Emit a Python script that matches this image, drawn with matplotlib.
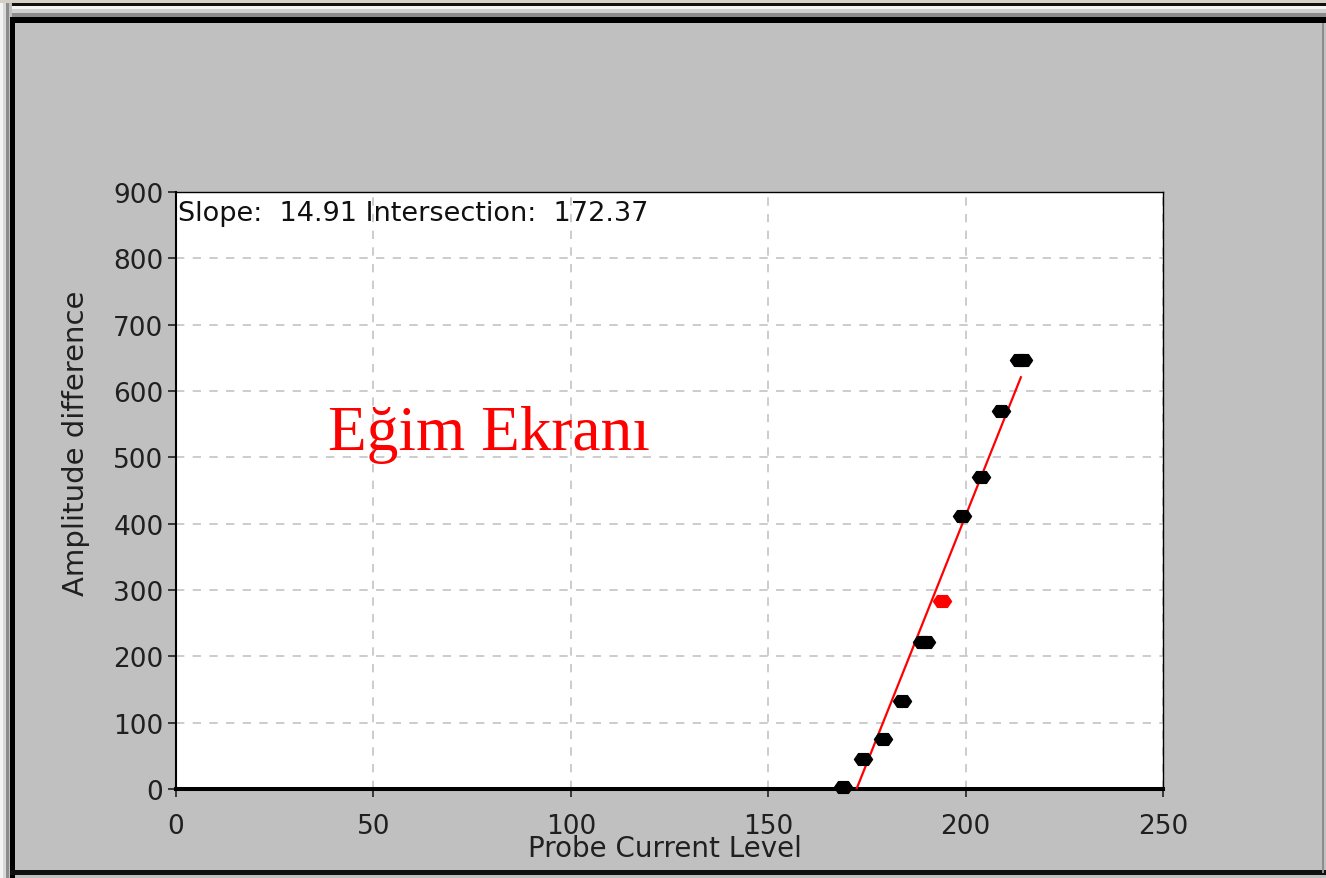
import matplotlib
matplotlib.use("Agg")
import matplotlib.pyplot as plt
from matplotlib.patches import Rectangle
from matplotlib.path import Path

# data
xPoints = [169, 174, 179, 184, 189, 190, 199, 204, 209, 213.5, 214.5]
yPoints = [3, 45, 75, 133, 222, 222, 412, 470, 570, 647, 647]
redX = [194]
redY = [283]
slope = 14.91
intersection = 172.37
fitX = [172.37, 214.0]
xTicks = [0, 50, 100, 150, 200, 250]
yTicks = [0, 100, 200, 300, 400, 500, 600, 700, 800, 900]

W, H = 1326, 879
fig = plt.figure(figsize=(W / 100, H / 100), dpi=100)
fig.patch.set_facecolor("#c0c0c0")


def px(x, y, w, h, color):
    # rectangle in screen pixels, top-left origin
    r = Rectangle((x / W, 1 - (y + h) / H), w / W, h / H,
                  transform=fig.transFigure, facecolor=color,
                  edgecolor="none", zorder=-5)
    fig.add_artist(r)


# window frame
px(0, 0, W, 4, "#d4d0c8")
px(12, 4, W, 3, "#101010")
px(12, 7, W, 3, "#f4f4f4")
px(12, 10, W, 4, "#d0d0d0")
px(12, 14, W, 4, "#8c8c8c")
px(10, 18, W, 6, "#000000")
px(0, 4, 3, H, "#f4f4f4")
px(3, 4, 3, H, "#d8d8d8")
px(6, 4, 3, H, "#8c8c8c")
px(10, 18, 5, H, "#000000")
px(10, 871, W, 5, "#101010")
px(1322, 24, 2, 850, "#8c8c8c")

ax = fig.add_axes([176 / W, 1 - 790 / H, (1163 - 176) / W, (790 - 193) / H])
ax.set_facecolor("white")

# fitted line
fitY = [slope * (x - intersection) for x in fitX]
ax.plot(fitX, fitY, color="red", linewidth=1.6, zorder=3)

hexVerts = [(-1, 0), (-0.55, 0.65), (0.55, 0.65), (1, 0), (0.55, -0.65),
            (-0.55, -0.65), (-1, 0)]
hexMarker = Path(hexVerts, closed=True)
ax.plot(xPoints, yPoints, linestyle="none", marker=hexMarker,
        markersize=13, color="black", zorder=4, clip_on=False)
ax.plot(redX, redY, linestyle="none", marker=hexMarker,
        markersize=13, color="red", zorder=4)

ax.set_xlim(0, 250)
ax.set_ylim(0, 900)
ax.set_xticks(xTicks)
ax.set_yticks(yTicks)
ax.grid(True, color="#c4c4c4", linestyle=(0, (5, 5)), linewidth=1.2)
ax.set_axisbelow(True)

for side, lw in [("bottom", 2.9), ("left", 1.5), ("top", 1.0), ("right", 1.0)]:
    ax.spines[side].set_linewidth(lw)
    ax.spines[side].set_color("black")

ax.tick_params(direction="out", length=6, width=1.2, color="#202020",
               labelsize=19, labelcolor="#202020", pad=3)
ax.tick_params(axis="x", pad=11)
for lab in ax.get_xticklabels() + ax.get_yticklabels():
    lab.set_fontfamily("DejaVu Sans")

ax.text(0.002, 0.986, "Slope:  14.91 Intersection:  172.37",
        transform=ax.transAxes, ha="left", va="top", fontsize=19.5,
        family="DejaVu Sans", color="#101010")

fig.text(665 / W, 1 - 849 / H, "Probe Current Level", ha="center",
         va="center", fontsize=20, family="DejaVu Sans", color="#202020")
fig.text(76 / W, 1 - 443 / H, "Amplitude difference", ha="center",
         va="center", rotation=90, fontsize=21, family="DejaVu Sans",
         color="#202020")

ax.text(38.5, 512, "Eğim Ekranı", ha="left", va="baseline", fontsize=45.5,
        family="Liberation Serif", color="#ff0000")

fig.savefig("out.png", dpi=100, facecolor=fig.get_facecolor())
